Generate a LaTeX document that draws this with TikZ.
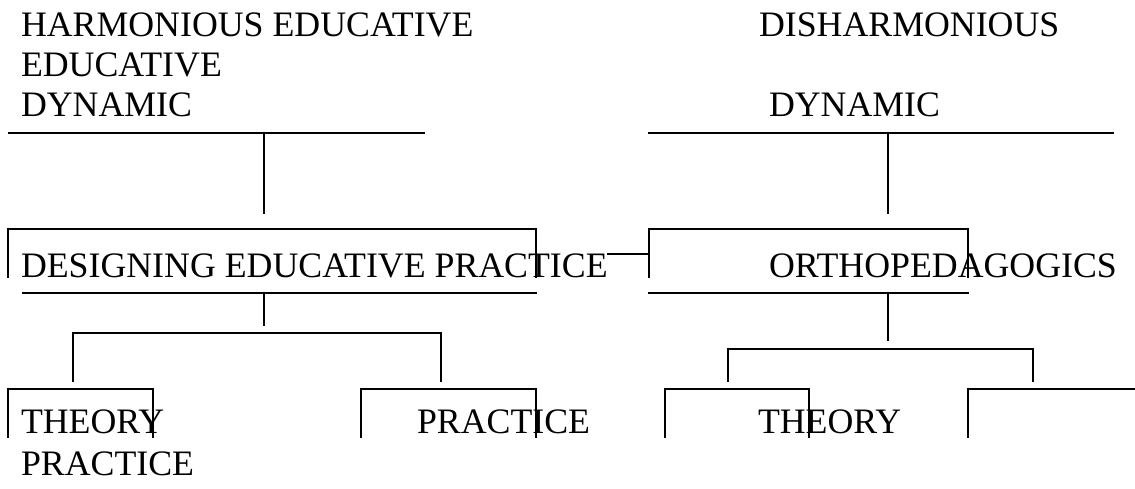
\documentclass[tikz,border=0pt]{standalone}
\usepackage{fontspec}
\setmainfont{Liberation Serif}
\begin{document}
\begin{tikzpicture}[x=1pt,y=-1pt,
  lbl/.style={anchor=base west,inner sep=0pt,outer sep=0pt,font=\fontsize{35.8}{36}\selectfont},
  ln/.style={line width=1.7pt,line cap=rect,black}]
\useasboundingbox (0,0) rectangle (1135,489);
% texts
\node[lbl] (t1) at (21,37) {HARMONIOUS EDUCATIVE};
\node[lbl] (t2) at (21,77) {EDUCATIVE};
\node[lbl] (t3) at (21,117) {DYNAMIC};
\node[lbl] (t4) at (759,37) {DISHARMONIOUS};
\node[lbl] (t5) at (769,117) {DYNAMIC};
\node[lbl] (dep) at (21,277) {DESIGNING EDUCATIVE PRACTICE};
\node[lbl] (orth) at (769,277) {ORTHOPEDAGOGICS};
\node[lbl] (th1) at (21,433) {THEORY};
\node[lbl] (pr1) at (21,475) {PRACTICE};
\node[lbl] (pr2) at (417,433) {PRACTICE};
\node[lbl] (th2) at (758,433) {THEORY};
% coordinates
\coordinate (hl) at (9,133); \coordinate (hr) at (424,133);
\coordinate (ht) at (264,133); \coordinate (hb) at (264,213);
\coordinate (dl) at (649,133); \coordinate (dr) at (1113,133);
\coordinate (dt) at (888,133); \coordinate (db) at (888,213);
% top brackets
\draw[ln] (hl) -- (hr);
\draw[ln] (ht) -- (hb);
\draw[ln] (dl) -- (dr);
\draw[ln] (dt) -- (db);
% box A (designing)
\draw[ln] (8,277) -- (8,229) -- (536,229) -- (536,277);
% box B (orthopedagogics)
\draw[ln] (649,277) -- (649,229) -- (968,229) -- (968,277);
% connector
\draw[ln] (dep.east |- 0,254) -- (649,254);
% under-lines
\draw[ln] (23,293) -- (536,293);
\draw[ln] (649,293) -- (968,293);
% left branch
\draw[ln] (264,293) -- (264,325);
\draw[ln] (73,381) -- (73,333) -- (441,333) -- (441,381);
% right branch
\draw[ln] (888,293) -- (888,340);
\draw[ln] (728,381) -- (728,349) -- (1033,349) -- (1033,381);
% bottom boxes
\draw[ln] (8,437) -- (8,389) -- (153,389) -- (153,437);
\draw[ln] (361,437) -- (361,389) -- (536,389) -- (536,437);
\draw[ln] (665,437) -- (665,389) -- (809,389) -- (809,437);
\draw[ln] (968,437) -- (968,389) -- (1135,389);
\end{tikzpicture}
\end{document}
